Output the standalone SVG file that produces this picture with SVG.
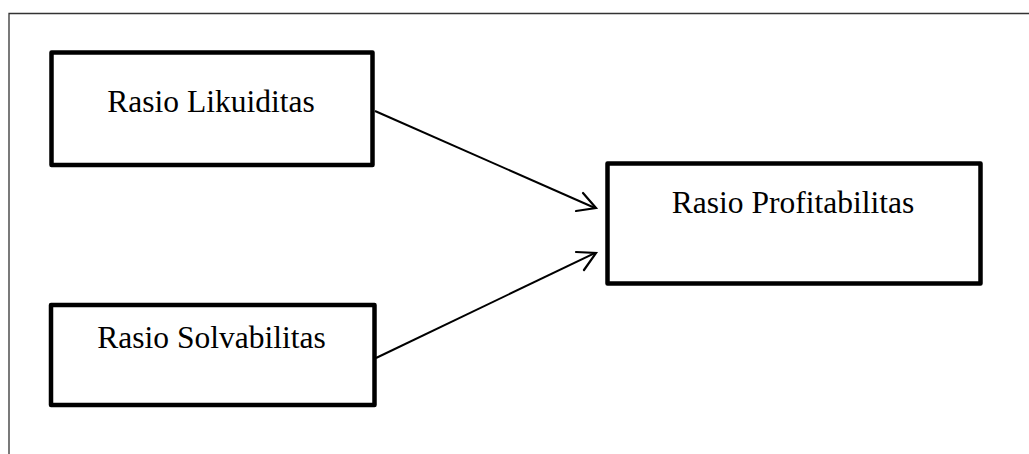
<svg xmlns="http://www.w3.org/2000/svg" width="1029" height="454" viewBox="0 0 1029 454">
<style>
.box{fill:#fff;stroke:#000;stroke-width:4.5;stroke-linejoin:round}
.lbl{font-family:"Liberation Serif","Times New Roman",serif;font-size:31.5px;fill:#000;text-anchor:middle}
.conn{stroke:#000;stroke-width:2;fill:none}
.head{stroke:#000;stroke-width:2.2;fill:none;stroke-linecap:round;stroke-linejoin:miter}
</style>
<rect width="1029" height="454" fill="#fff"/>
<g id="frame">
<path d="M9 454 V13.5 H1029" fill="none" stroke="#333" stroke-width="1.3"/>
</g>
<g id="node-likuiditas">
<rect class="box" x="51.5" y="52.5" width="321" height="112.5"/>
<text class="lbl" x="211" y="111.5">Rasio Likuiditas</text>
</g>
<g id="node-solvabilitas">
<rect class="box" x="51" y="305" width="323.5" height="100"/>
<text class="lbl" x="211.5" y="348">Rasio Solvabilitas</text>
</g>
<g id="node-profitabilitas">
<rect class="box" x="607.5" y="163.5" width="373" height="120"/>
<text class="lbl" x="793" y="213">Rasio Profitabilitas</text>
</g>
<g id="connectors">
<line class="conn" x1="375" y1="111" x2="595" y2="208"/>
<polyline class="head" points="583,193 596,208 576,211"/>
<line class="conn" x1="376" y1="358" x2="595" y2="253"/>
<polyline class="head" points="576,252 596,253 584,270"/>
</g>
</svg>
